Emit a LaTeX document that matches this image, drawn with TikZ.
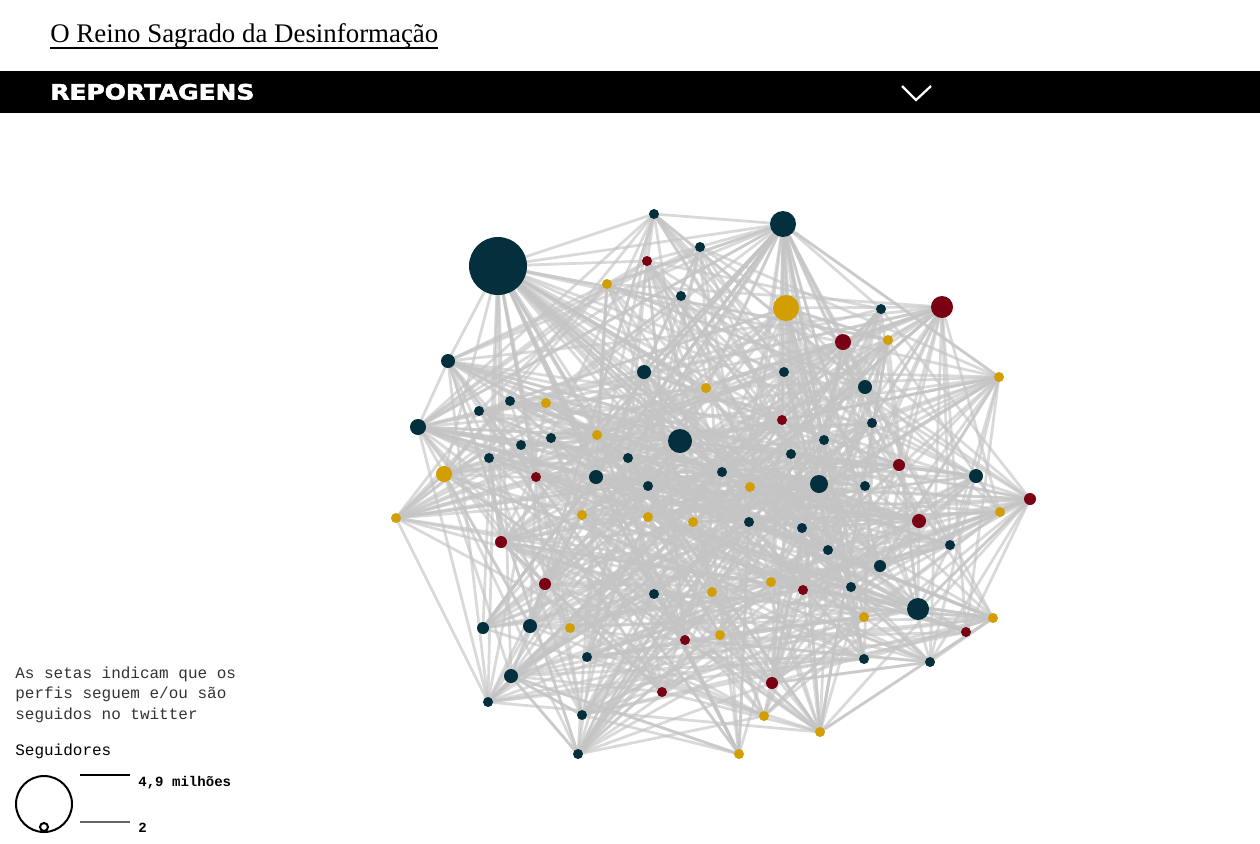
\documentclass[tikz,border=0pt]{standalone}
\usepackage{fontspec}
\usepackage{graphicx}
\setmainfont{Liberation Serif}
\newfontfamily\monofont{Liberation Mono}
\newfontfamily\barfont{DejaVu Sans}[BoldFeatures={FakeBold=2.5}]

\definecolor{tl}{HTML}{04303D}
\definecolor{rd}{HTML}{7A0014}
\definecolor{gd}{HTML}{D29E00}
\definecolor{linkgray}{HTML}{C4C4C4}

\tikzset{
  link/.style={draw=linkgray,line width=0.055cm,opacity=.65},
  legendtext/.style={anchor=base west,inner sep=0,font=\monofont\fontsize{9.1}{11.4}\selectfont},
}

% x/y/radius/colour/links
\def\netnodes{498/266/29/tl/45, 783/224/13/tl/35, 654/214/5/tl/8, 700/247/5/tl/6,
681/296/5/tl/6, 881/309/5/tl/5, 448/361/7/tl/14, 644/372/7/tl/10, 784/372/5/tl/6,
865/387/7/tl/10, 418/427/8/tl/18, 479/411/5/tl/5, 510/401/5/tl/6, 551/438/5/tl/6,
521/445/5/tl/5, 489/458/5/tl/5, 680/441/12/tl/14, 628/458/5/tl/5, 596/477/7/tl/8,
648/486/5/tl/6, 722/472/5/tl/6, 824/440/5/tl/6, 872/423/5/tl/5, 791/454/5/tl/6,
819/484/9/tl/12, 865/486/5/tl/6, 976/476/7/tl/12, 749/522/5/tl/6, 802/528/5/tl/6,
828/550/5/tl/6, 950/545/5/tl/8, 880/566/6/tl/8, 851/587/5/tl/6, 918/609/11/tl/18,
654/594/5/tl/6, 483/628/6/tl/8, 530/626/7/tl/12, 587/657/5/tl/8, 511/676/7/tl/16,
488/702/5/tl/10, 582/715/5/tl/8, 578/754/5/tl/14, 864/659/5/tl/6, 930/662/5/tl/8,
647/261/5/rd/6, 942/307/11/rd/20, 843/342/8/rd/14, 782/420/5/rd/6, 536/477/5/rd/6,
899/465/6/rd/8, 919/521/7/rd/10, 1030/499/6/rd/16, 501/542/6/rd/14, 545/584/6/rd/10,
685/640/5/rd/8, 803/590/5/rd/6, 966/632/5/rd/8, 662/692/5/rd/6, 772/683/6/rd/16,
607/284/5/gd/6, 786/308/13/gd/20, 888/340/5/gd/6, 999/377/5/gd/16, 706/388/5/gd/6,
546/403/5/gd/6, 597/435/5/gd/6, 444/474/8/gd/12, 396/518/5/gd/14, 582/515/5/gd/6,
648/517/5/gd/6, 693/522/5/gd/6, 750/487/5/gd/6, 1000/512/5/gd/8, 570/628/5/gd/6,
712/592/5/gd/6, 771/582/5/gd/6, 864/617/5/gd/8, 993/618/5/gd/10, 720/635/5/gd/6,
764/716/5/gd/8, 820/732/5/gd/10, 739/754/5/gd/10}

\begin{document}
\begin{tikzpicture}[x=0.02cm,y=-0.02cm]
\useasboundingbox (0,0) rectangle (1260,843);

% header
\node[anchor=base west,inner sep=0] (title) at (50,42)
  {\resizebox{7.76cm}{!}{\fontsize{12.5}{14}\selectfont O Reino Sagrado da Desinformação}};
\coordinate (ul1) at (50,48);
\coordinate (ul2) at (438,48);
\draw[line width=0.05cm] (ul1) -- (ul2);
\fill[black] (0,71) rectangle (1260,113);
\node[anchor=base west,inner sep=0,text=white] (bar) at (50,99.5)
  {\scalebox{1.18}[1]{\barfont\bfseries\fontsize{12}{14}\selectfont REPORTAGENS}};
\coordinate (v1) at (902,86);
\coordinate (v2) at (916,100);
\coordinate (v3) at (931,86);
\draw[white,line width=0.045cm] (v1) -- (v2) -- (v3);

% network
\foreach \x/\y/\r/\c/\d [count=\i] in \netnodes
  \coordinate (n\i) at (\x,\y);
\pgfmathsetseed{7}
\foreach \x/\y/\r/\c/\d [count=\i] in \netnodes {
  \foreach \k in {1,...,\d} {
    \pgfmathtruncatemacro\j{random(1,82)}
    \draw[link] (n\i) -- (n\j);
  }
}
\foreach \x/\y/\r/\c/\d [count=\i] in \netnodes
  \fill[\c] (n\i) circle (\r);

% legend
\node[legendtext,text=black!80,align=left] (note) at (15,719)
  {As setas indicam que os\\perfis seguem e/ou são\\seguidos no twitter};
\node[legendtext] (seg) at (15,755) {Seguidores};
\coordinate (big) at (44,804);
\coordinate (small) at (44,827);
\draw[line width=0.04cm] (big) circle (28);
\draw[line width=0.04cm] (small) circle (4);
\coordinate (l1a) at (80,775);
\coordinate (l1b) at (130,775);
\coordinate (l2a) at (80,822);
\coordinate (l2b) at (130,822);
\draw[line width=0.025cm] (l1a) -- (l1b);
\draw[line width=0.025cm,black!60] (l2a) -- (l2b);
\node[legendtext,font=\monofont\bfseries\fontsize{8}{10}\selectfont] (max) at (138,786) {4,9 milhões};
\node[legendtext,font=\monofont\bfseries\fontsize{8}{10}\selectfont] (min) at (138,832) {2};
\end{tikzpicture}
\end{document}
